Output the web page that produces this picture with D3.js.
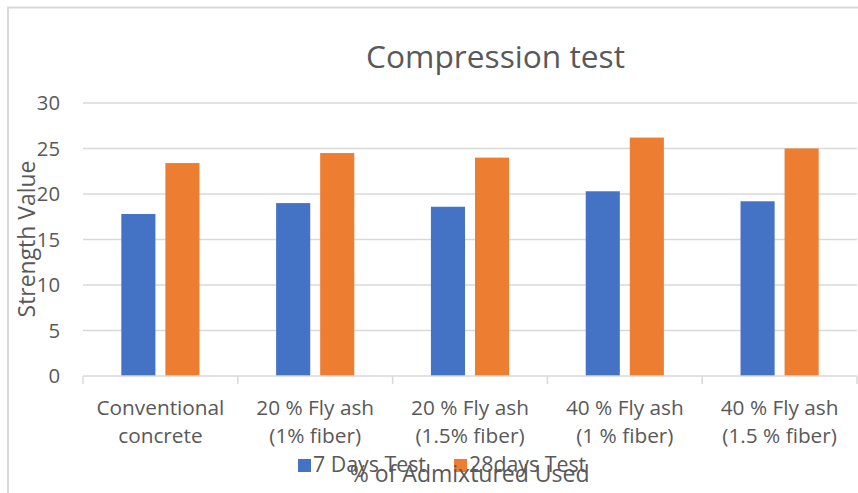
<!DOCTYPE html>
<html><head><meta charset="utf-8">
<script src="https://cdn.jsdelivr.net/npm/d3@7"></script>
<style>
body{margin:0;background:#fff;}
text{font-family:"Open Sans",sans-serif;fill:#595959;}
</style></head>
<body><svg id="c" width="858" height="493"></svg>
<script>
const categories = [["Conventional","concrete"],["20 % Fly ash","(1% fiber)"],["20 % Fly ash","(1.5% fiber)"],["40 % Fly ash","(1 % fiber)"],["40 % Fly ash","(1.5 % fiber)"]];
const seriesNames = ["7 Days Test","28days Test"];
const days7 = [17.8, 19.0, 18.6, 20.3, 19.2];
const days28 = [23.4, 24.5, 24.0, 26.2, 25.0];
const yTicks = [0,5,10,15,20,25,30];
const colors = ["#4472C4","#ED7D31"];
const title = "Compression test";
const xTitle = "% of Admixtured Used";
const yTitle = "Strength Value";

const svg = d3.select("#c");
// font size that makes a text node render at a target width
function fitSize(node, fs, target){
  const w = node.getComputedTextLength();
  return w > 0 ? fs*target/w : fs;
}
function fit(sel, target){
  sel.each(function(){
    const fs = parseFloat(this.getAttribute("font-size"));
    this.setAttribute("font-size", fitSize(this, fs, target).toFixed(2));
  });
}
// chart border
svg.append("rect").attr("x",8).attr("y",7.5).attr("width",870).attr("height",500)
  .attr("fill","none").attr("stroke","#d9d9d9").attr("stroke-width",2);

const catKeys = categories.map(d=>d.join(" "));
const x = d3.scaleBand().domain(catKeys).range([83,857]);
const xi = d3.scaleBand().domain(seriesNames).range([0,x.bandwidth()]).paddingInner(0.226).paddingOuter(0.87);
const y = d3.scaleLinear().domain([0,30]).range([376,103]);

// gridlines
svg.append("g").selectAll("line").data(yTicks.filter(t=>t>0)).join("line")
  .attr("x1",83).attr("x2",857).attr("y1",d=>y(d)).attr("y2",d=>y(d))
  .attr("stroke","#d9d9d9").attr("stroke-width",1.5);

// y tick labels
svg.append("g").selectAll("text").data(yTicks).join("text")
  .attr("x",60).attr("y",d=>y(d)).attr("dy","0.36em").attr("text-anchor","end")
  .attr("font-size",20.3).text(d=>d);

// bars
const data = catKeys.map((k,i)=>({k, vals:[days7[i],days28[i]]}));
const g = svg.append("g").selectAll("g").data(data).join("g")
  .attr("transform",d=>`translate(${x(d.k)},0)`);
g.selectAll("rect").data(d=>d.vals.map((v,j)=>({v,s:seriesNames[j],j}))).join("rect")
  .attr("x",d=>xi(d.s)).attr("width",xi.bandwidth())
  .attr("y",d=>y(d.v)).attr("height",d=>y(0)-y(d.v))
  .attr("fill",d=>colors[d.j]);

// x axis line + ticks
svg.append("line").attr("x1",83).attr("x2",857).attr("y1",y(0)).attr("y2",y(0))
  .attr("stroke","#d9d9d9").attr("stroke-width",1.5);
const bounds = catKeys.map(k=>x(k)).concat([x(catKeys[catKeys.length-1])+x.bandwidth()]);
svg.append("g").selectAll("line").data(bounds).join("line")
  .attr("x1",d=>d).attr("x2",d=>d).attr("y1",y(0)).attr("y2",y(0)+8)
  .attr("stroke","#d9d9d9").attr("stroke-width",1.5);

// category labels
const cl = svg.append("g").selectAll("text").data(categories).join("text")
  .attr("text-anchor","middle").attr("font-size",20.5)
  .attr("transform",(d,i)=>`translate(${x(catKeys[i])+x.bandwidth()/2},0)`);
cl.selectAll("tspan").data(d=>d).join("tspan").attr("x",0)
  .attr("y",(d,i)=>415+i*28).text(d=>d);
const catFs = fitSize(cl.select("tspan").node(), 20.5, 128);
cl.attr("font-size", catFs.toFixed(2));

// title
const t = svg.append("text").attr("x",495.5).attr("y",68).attr("text-anchor","middle")
  .attr("font-size",31.5).text(title);
fit(t, 259);

// y title
const yt = svg.append("text").attr("transform","translate(35,239) rotate(-90)")
  .attr("text-anchor","middle").attr("font-size",20.5).text(yTitle);
fit(yt, 157);

// legend
const legX = [298,454];
const lg = svg.append("g").selectAll("g").data(seriesNames).join("g")
  .attr("transform",(d,i)=>`translate(${legX[i]},459)`);
lg.append("rect").attr("width",13).attr("height",13).attr("fill",(d,i)=>colors[i]);
const lt = lg.append("text").attr("x",15).attr("y",12.5).attr("font-size",20.5).text(d=>d);
const legFs = fitSize(lt.node(), 20.5, 113);
lt.attr("font-size", legFs.toFixed(2));

// x title
const xt = svg.append("text").attr("x",469.7).attr("y",481.5).attr("text-anchor","middle")
  .attr("font-size",21).text(xTitle);
fit(xt, 240);
</script></body></html>
